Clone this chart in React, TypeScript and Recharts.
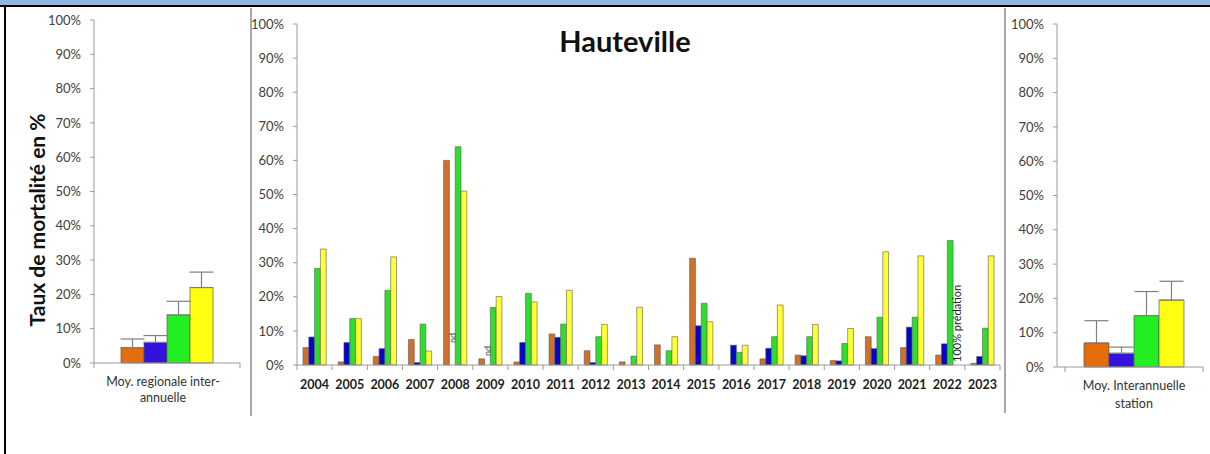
import React from 'react';
import { BarChart, Bar, XAxis, YAxis, ErrorBar, LabelList } from 'recharts';

// ---- data ----
const years = ['2004','2005','2006','2007','2008','2009','2010','2011','2012','2013','2014','2015','2016','2017','2018','2019','2020','2021','2022','2023'];
const orangeVals: (number | null)[] = [5.1, 0.9, 2.5, 7.5, 60, 1.8, 0.9, 9.1, 4.2, 0.9, 5.9, 31.3, 0, 1.8, 2.9, 1.3, 8.3, 5.1, 2.9, 0.5];
const blueVals: (number | null)[] = [8.2, 6.6, 4.8, 0.7, null, null, 6.6, 8.1, 0.7, 0, 0, 11.5, 5.8, 4.9, 2.7, 1.2, 4.8, 11.1, 6.2, 2.5];
const greenVals: (number | null)[] = [28.3, 13.6, 21.9, 12, 64, 16.9, 21, 12, 8.3, 2.6, 4.2, 18.1, 3.7, 8.3, 8.3, 6.3, 14, 14, 36.5, 10.8];
const yellowVals: (number | null)[] = [34, 13.6, 31.7, 4.1, 51, 20.1, 18.5, 21.9, 11.9, 16.9, 8.3, 12.7, 5.8, 17.6, 11.9, 10.7, 33.2, 32, null, 32];
const blueNotes: (string | null)[] = [null, null, null, null, 'nd', 'nd', null, null, null, null, null, null, null, null, null, null, null, null, null, null];
const yellowNotes: (string | null)[] = [null, null, null, null, null, null, null, null, null, null, null, null, null, null, null, null, null, null, '100% prédation', null];

const regionalLabel = ['Moy. regionale inter-', 'annuelle'];
const regionalMeans = [4.5, 6, 14, 22];
const regionalErrors = [2.5, 2, 4, 4.5];

const stationLabel = ['Moy. Interannuelle', 'station'];
const stationMeans = [7, 4, 15, 19.5];
const stationErrors = [6.5, 1.8, 7, 5.5];

const pctTicks = [0, 10, 20, 30, 40, 50, 60, 70, 80, 90, 100];
const title = 'Hauteville';
const yTitle = 'Taux de mortalité en %';

// ---- tables ----
const yearData = years.map((y, i) => ({
  year: y,
  o: orangeVals[i] ?? 0,
  b: blueVals[i] ?? 0,
  g: greenVals[i] ?? 0,
  yl: yellowVals[i] ?? 0,
  noteB: blueNotes[i],
  noteY: yellowNotes[i],
}));

const sideRow = (label: string[], means: number[], errs: number[]) => [{
  name: label.join(' '),
  o: means[0], b: means[1], g: means[2], yl: means[3],
  oe: [0, errs[0]], be: [0, errs[1]], ge: [0, errs[2]], ye: [0, errs[3]],
}];
const regionalData = sideRow(regionalLabel, regionalMeans, regionalErrors);
const stationData = sideRow(stationLabel, stationMeans, stationErrors);

const FONT = 'Lato, "Open Sans", sans-serif';
const AXIS = '#9a9a9a';
const STROKE = '#5a5a5a';
const MID = { o: '#D0702A', b: '#0505C8', g: '#2EDD2E', y: '#FFFF33' };
const SIDE = { o: '#E46C0A', b: '#3312DD', g: '#22EE22', y: '#FFFF11' };

const pct = (v: number) => `${v}%`;

const YearTick = (props: any) => {
  const { x, y, payload, index } = props;
  const off = payload && payload.offset != null ? payload.offset : 17.6;
  return (
    <g>
      <line x1={x - off} x2={x - off} y1={y} y2={y + 5} stroke={AXIS} />
      {index === years.length - 1 && <line x1={x + off} x2={x + off} y1={y} y2={y + 5} stroke={AXIS} />}
      <text x={x} y={y + 24} textAnchor="middle" fontWeight="bold" fontSize={12.5} fill="#1e1e1e" fontFamily={FONT}>
        {payload.value}
      </text>
    </g>
  );
};

const makeSideTick = (lines: string[], dx: number, dy: number) => (props: any) => {
  const { x, y, payload } = props;
  const off = payload && payload.offset != null ? payload.offset : 73;
  return (
    <g>
      <line x1={x - off} x2={x - off} y1={y} y2={y + 5} stroke={AXIS} />
      <line x1={x + off} x2={x + off} y1={y} y2={y + 5} stroke={AXIS} />
      {lines.map((l, i) => (
        <text key={i} x={x + dx} y={y + 23 + i * dy} textAnchor="middle" fontSize={12.5} fill="#333" fontFamily={FONT}>
          {l}
        </text>
      ))}
    </g>
  );
};

// Note drawn in the next bar slot (the series that has no bar there), rotated, from the base line.
const makeNote = (size: number, fill: string, lifts: (index: number) => number) => (props: any) => {
  const { x, y, width, height, index, value } = props;
  if (!value) return null;
  const cx = x + width * 1.5;
  const cy = y + height - lifts(index);
  return (
    <text x={cx} y={cy} transform={`rotate(-90 ${cx} ${cy})`} textAnchor="start" dominantBaseline="central"
      fontSize={size} fill={fill} fontFamily={FONT}>
      {value}
    </text>
  );
};

const yAxisProps = {
  type: 'number' as const,
  domain: [0, 100],
  ticks: pctTicks,
  tickFormatter: pct,
  interval: 0 as const,
  axisLine: { stroke: AXIS },
  tickLine: { stroke: AXIS },
  tickSize: 4,
  tickMargin: 9,
  tick: { fontSize: 13, fill: '#404040', fontFamily: FONT },
};

const sideBars = () => [
  <Bar key="o" dataKey="o" fill={SIDE.o} stroke={STROKE} strokeWidth={0.7} isAnimationActive={false}>
    <ErrorBar dataKey="oe" width={12} stroke="#7f7f7f" strokeWidth={1.2} direction="y" />
  </Bar>,
  <Bar key="b" dataKey="b" fill={SIDE.b} stroke={STROKE} strokeWidth={0.7} isAnimationActive={false}>
    <ErrorBar dataKey="be" width={12} stroke="#7f7f7f" strokeWidth={1.2} direction="y" />
  </Bar>,
  <Bar key="g" dataKey="g" fill={SIDE.g} stroke={STROKE} strokeWidth={0.7} isAnimationActive={false}>
    <ErrorBar dataKey="ge" width={12} stroke="#7f7f7f" strokeWidth={1.2} direction="y" />
  </Bar>,
  <Bar key="yl" dataKey="yl" fill={SIDE.y} stroke={STROKE} strokeWidth={0.7} isAnimationActive={false}>
    <ErrorBar dataKey="ye" width={12} stroke="#7f7f7f" strokeWidth={1.2} direction="y" />
  </Bar>,
];

export default function App() {
  return (
    <div style={{ position: 'absolute', left: 0, top: 0, width: 1210, height: 454, background: '#fff', overflow: 'hidden', fontFamily: FONT }}>
      {/* top band */}
      <div style={{ position: 'absolute', left: 0, top: 0, width: 1210, height: 5, background: '#8DB4E2' }} />
      <div style={{ position: 'absolute', left: 0, top: 5, width: 1210, height: 2, background: '#000' }} />
      <div style={{ position: 'absolute', left: 4, top: 5, width: 2, height: 449, background: '#000' }} />
      {/* separators */}
      <div style={{ position: 'absolute', left: 250, top: 8, width: 1.5, height: 408, background: '#a8a8a8' }} />
      <div style={{ position: 'absolute', left: 1004, top: 8, width: 1.5, height: 405, background: '#a8a8a8' }} />

      {/* left regional chart */}
      <div style={{ position: 'absolute', left: 0, top: 0 }}>
        <BarChart width={250} height={420} data={regionalData} margin={{ top: 20, right: 10, left: 50, bottom: 7 }} barGap={0} barSize={23}>
          <XAxis dataKey="name" type="category" axisLine={{ stroke: AXIS }} tickLine={false} tickSize={0} tickMargin={0}
            height={50} tick={makeSideTick(regionalLabel, -4, 16)} interval={0} />
          <YAxis {...yAxisProps} width={44} />
          {sideBars()}
        </BarChart>
      </div>

      {/* middle yearly chart */}
      <div style={{ position: 'absolute', left: 250, top: 0 }}>
        <BarChart width={755} height={420} data={yearData} margin={{ top: 24, right: 5, left: 7, bottom: 25 }} barGap={0} barSize={5.8}>
          <XAxis dataKey="year" type="category" axisLine={{ stroke: AXIS }} tickLine={false} tickSize={0} tickMargin={0}
            height={30} tick={YearTick} interval={0} />
          <YAxis {...yAxisProps} width={40} />
          <Bar dataKey="o" fill={MID.o} stroke={STROKE} strokeWidth={0.6} isAnimationActive={false}>
            <LabelList dataKey="noteB" content={makeNote(9, '#555', (i) => (i === 4 ? 22 : 9))} />
          </Bar>
          <Bar dataKey="b" fill={MID.b} stroke={STROKE} strokeWidth={0.6} isAnimationActive={false} />
          <Bar dataKey="g" fill={MID.g} stroke={STROKE} strokeWidth={0.6} isAnimationActive={false}>
            <LabelList dataKey="noteY" content={makeNote(11, '#222', () => 3)} />
          </Bar>
          <Bar dataKey="yl" fill={MID.y} stroke={STROKE} strokeWidth={0.6} isAnimationActive={false} />
        </BarChart>
      </div>

      {/* right station chart */}
      <div style={{ position: 'absolute', left: 1005, top: 0 }}>
        <BarChart width={205} height={420} data={stationData} margin={{ top: 24, right: 7, left: 8, bottom: 7 }} barGap={0} barSize={25}>
          <XAxis dataKey="name" type="category" axisLine={{ stroke: AXIS }} tickLine={false} tickSize={0} tickMargin={0}
            height={46} tick={makeSideTick(stationLabel, 0, 18)} padding={{ left: 8, right: 0 }} interval={0} />
          <YAxis {...yAxisProps} width={44} />
          {sideBars()}
        </BarChart>
      </div>

      {/* titles */}
      <svg width={1210} height={454} style={{ position: 'absolute', left: 0, top: 0, pointerEvents: 'none' }}>
        <text x={625} y={52} textAnchor="middle" fontWeight="bold" fontSize={29} fill="#111" fontFamily={FONT}>{title}</text>
        <text x={36} y={220} transform="rotate(-90 36 220)" textAnchor="middle" dominantBaseline="central" fontWeight="bold" fontSize={21} fill="#111" fontFamily={FONT}>{yTitle}</text>
      </svg>
    </div>
  );
}
